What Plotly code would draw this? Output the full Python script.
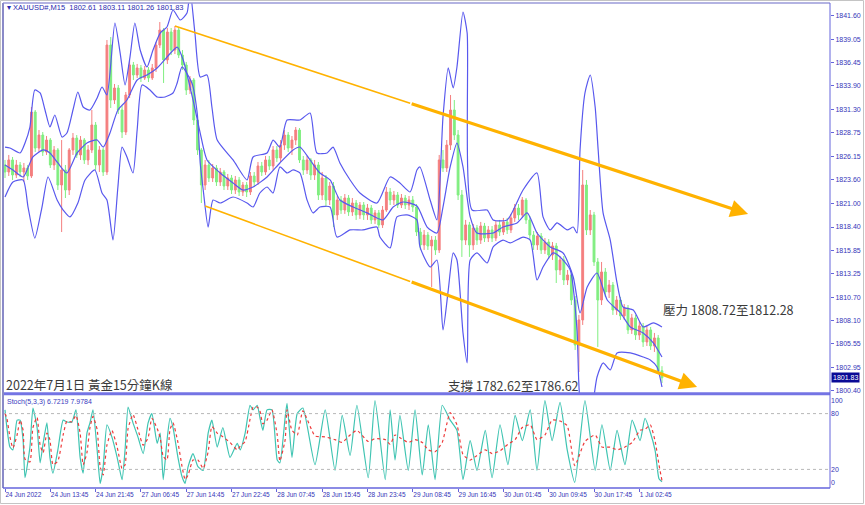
import plotly.graph_objects as go

# ---------------- price data (XAUUSD#, M15), bar index 0..174 ----------------
opens = [1825.22, 1824.45, 1825.77, 1824.12, 1825.22, 1824.45, 1824.89, 1824.01, 1831.04, 1827.08,
         1828.51, 1826.65, 1827.96, 1825.22, 1826.87, 1823.02, 1824.67, 1822.47, 1826.87, 1828.18,
         1826.32, 1827.96, 1825.77, 1826.87, 1829.61, 1825.22, 1826.87, 1824.45, 1838.40, 1832.36,
         1833.68, 1831.26, 1828.84, 1832.91, 1836.21, 1835.11, 1835.88, 1834.78, 1835.66, 1834.78,
         1835.88, 1838.40, 1840.05, 1836.76, 1839.83, 1837.85, 1840.05, 1837.30, 1836.21, 1833.46,
         1834.56, 1830.16, 1826.87, 1823.02, 1825.22, 1823.79, 1824.89, 1823.35, 1824.45, 1822.91,
         1823.79, 1822.47, 1823.57, 1822.25, 1823.02, 1822.25, 1824.01, 1823.35, 1825.11, 1824.45,
         1825.77, 1825.11, 1826.87, 1825.99, 1827.41, 1828.51, 1827.08, 1827.96, 1829.06, 1825.77,
         1824.67, 1825.77, 1824.12, 1825.22, 1821.92, 1823.79, 1821.37, 1822.91, 1819.73, 1821.37,
         1820.27, 1821.59, 1820.06, 1821.04, 1819.73, 1820.82, 1819.73, 1820.49, 1819.18, 1819.95,
         1818.63, 1820.27, 1822.25, 1821.37, 1821.92, 1820.82, 1821.59, 1820.82, 1821.37, 1820.60,
         1817.85, 1816.43, 1817.52, 1816.32, 1816.97, 1815.88, 1825.77, 1824.89, 1827.41, 1831.26,
         1828.51, 1821.92, 1816.97, 1818.63, 1816.43, 1818.30, 1816.97, 1818.51, 1817.19, 1818.08,
         1817.19, 1818.63, 1817.85, 1818.96, 1818.08, 1819.40, 1820.49, 1819.73, 1821.37, 1819.18,
         1817.52, 1816.43, 1817.41, 1815.88, 1816.75, 1815.33, 1816.32, 1813.68, 1814.78, 1812.58,
         1813.13, 1810.38, 1805.44, 1808.19, 1823.02, 1818.08, 1819.73, 1814.56, 1810.38, 1813.46,
         1811.26, 1812.03, 1809.28, 1810.38, 1808.63, 1809.50, 1807.09, 1808.41, 1806.54, 1807.53,
         1805.77, 1807.09, 1805.33, 1806.21, 1802.61]
highs = [1825.77, 1826.32, 1826.10, 1825.77, 1825.55, 1825.44, 1825.22, 1831.59, 1831.26, 1829.06,
         1828.84, 1828.40, 1828.18, 1827.30, 1827.08, 1827.96, 1825.22, 1827.08, 1828.73, 1828.51,
         1828.40, 1828.18, 1827.41, 1831.26, 1829.94, 1827.30, 1827.08, 1838.95, 1839.28, 1834.12,
         1834.01, 1831.70, 1833.24, 1836.76, 1836.54, 1836.32, 1836.21, 1836.10, 1835.99, 1836.32,
         1838.73, 1840.93, 1840.27, 1840.27, 1840.27, 1840.49, 1840.27, 1837.85, 1836.54, 1834.99,
         1834.78, 1830.71, 1827.08, 1825.77, 1825.77, 1825.33, 1825.22, 1824.89, 1824.67, 1824.23,
         1824.12, 1824.01, 1823.90, 1823.35, 1823.35, 1824.45, 1824.45, 1825.55, 1825.55, 1826.21,
         1826.21, 1827.30, 1827.30, 1827.96, 1829.06, 1828.84, 1828.40, 1829.39, 1829.28, 1826.21,
         1826.21, 1825.99, 1825.77, 1825.55, 1824.45, 1824.12, 1823.35, 1823.35, 1821.81, 1821.81,
         1822.03, 1821.92, 1821.59, 1821.37, 1821.15, 1821.15, 1820.93, 1820.82, 1820.27, 1820.27,
         1820.71, 1822.80, 1822.69, 1822.36, 1822.25, 1822.03, 1821.92, 1821.81, 1821.81, 1820.93,
         1818.30, 1818.08, 1817.85, 1817.41, 1817.41, 1826.32, 1826.87, 1827.96, 1832.91, 1832.36,
         1829.06, 1822.47, 1819.18, 1818.96, 1818.74, 1818.63, 1818.96, 1818.85, 1818.51, 1818.51,
         1819.07, 1819.18, 1819.40, 1819.40, 1819.84, 1820.93, 1820.93, 1821.70, 1821.59, 1819.62,
         1817.96, 1817.85, 1817.74, 1817.19, 1817.08, 1816.75, 1816.65, 1815.22, 1815.22, 1813.68,
         1813.46, 1810.82, 1808.74, 1824.67, 1823.57, 1820.27, 1820.06, 1815.00, 1814.56, 1813.90,
         1812.58, 1812.36, 1810.82, 1810.71, 1809.93, 1809.83, 1808.85, 1808.74, 1807.97, 1807.86,
         1807.64, 1807.42, 1806.76, 1806.54, 1803.11]
lows = [1823.79, 1824.01, 1823.57, 1823.79, 1823.90, 1823.35, 1823.57, 1823.79, 1826.65, 1826.65,
        1826.21, 1826.32, 1824.89, 1824.67, 1822.47, 1817.85, 1821.59, 1821.92, 1826.32, 1825.99,
        1825.77, 1825.33, 1825.22, 1826.54, 1824.67, 1824.45, 1824.01, 1824.12, 1831.48, 1831.92,
        1830.82, 1828.18, 1828.51, 1832.58, 1834.56, 1834.78, 1834.34, 1834.56, 1834.34, 1834.56,
        1835.44, 1838.07, 1834.23, 1836.32, 1837.30, 1837.41, 1836.97, 1835.66, 1832.91, 1833.02,
        1829.61, 1826.32, 1821.04, 1822.47, 1823.35, 1823.35, 1822.91, 1822.91, 1822.47, 1822.47,
        1822.03, 1822.03, 1821.81, 1821.81, 1821.70, 1821.92, 1822.91, 1823.02, 1824.01, 1824.12,
        1824.67, 1824.67, 1825.55, 1825.55, 1826.87, 1826.65, 1826.32, 1827.41, 1825.44, 1824.12,
        1824.23, 1823.57, 1823.57, 1821.37, 1821.37, 1820.60, 1820.82, 1818.40, 1819.18, 1819.84,
        1819.84, 1819.62, 1819.62, 1819.18, 1819.29, 1819.18, 1819.18, 1818.74, 1818.74, 1818.30,
        1818.30, 1820.06, 1820.82, 1820.82, 1820.49, 1820.49, 1820.38, 1820.27, 1820.06, 1817.41,
        1815.88, 1815.88, 1815.88, 1811.81, 1815.33, 1815.55, 1824.45, 1824.45, 1826.87, 1827.96,
        1821.37, 1815.11, 1816.43, 1815.11, 1815.88, 1816.43, 1816.54, 1816.75, 1816.75, 1816.75,
        1816.86, 1817.41, 1817.52, 1817.63, 1817.74, 1818.96, 1819.18, 1819.40, 1818.74, 1816.97,
        1815.88, 1815.88, 1815.44, 1815.44, 1814.89, 1814.78, 1812.25, 1813.13, 1812.03, 1812.03,
        1809.83, 1804.89, 1802.47, 1807.64, 1817.52, 1817.52, 1814.12, 1805.22, 1809.83, 1810.71,
        1810.60, 1808.74, 1808.74, 1808.19, 1808.19, 1806.65, 1806.65, 1805.99, 1805.99, 1805.22,
        1805.33, 1804.89, 1804.67, 1802.25, 1801.26]
closes = [1824.45, 1825.77, 1824.12, 1825.22, 1824.45, 1824.89, 1824.01, 1831.04, 1827.08, 1828.51,
          1826.65, 1827.96, 1825.22, 1826.87, 1823.02, 1824.67, 1822.47, 1826.87, 1828.18, 1826.32,
          1827.96, 1825.77, 1826.87, 1829.61, 1825.22, 1826.87, 1824.45, 1838.40, 1832.36, 1833.68,
          1831.26, 1828.84, 1832.91, 1836.21, 1835.11, 1835.88, 1834.78, 1835.66, 1834.78, 1835.88,
          1838.40, 1840.05, 1836.76, 1839.83, 1837.85, 1840.05, 1837.30, 1836.21, 1833.46, 1834.56,
          1830.16, 1826.87, 1823.02, 1825.22, 1823.79, 1824.89, 1823.35, 1824.45, 1822.91, 1823.79,
          1822.47, 1823.57, 1822.25, 1823.02, 1822.25, 1824.01, 1823.35, 1825.11, 1824.45, 1825.77,
          1825.11, 1826.87, 1825.99, 1827.41, 1828.51, 1827.08, 1827.96, 1829.06, 1825.77, 1824.67,
          1825.77, 1824.12, 1825.22, 1821.92, 1823.79, 1821.37, 1822.91, 1819.73, 1821.37, 1820.27,
          1821.59, 1820.06, 1821.04, 1819.73, 1820.82, 1819.73, 1820.49, 1819.18, 1819.95, 1818.63,
          1820.27, 1822.25, 1821.37, 1821.92, 1820.82, 1821.59, 1820.82, 1821.37, 1820.60, 1817.85,
          1816.43, 1817.52, 1816.32, 1816.97, 1815.88, 1825.77, 1824.89, 1827.41, 1831.26, 1828.51,
          1821.92, 1816.97, 1818.63, 1816.43, 1818.30, 1816.97, 1818.51, 1817.19, 1818.08, 1817.19,
          1818.63, 1817.85, 1818.96, 1818.08, 1819.40, 1820.49, 1819.73, 1821.37, 1819.18, 1817.52,
          1816.43, 1817.41, 1815.88, 1816.75, 1815.33, 1816.32, 1813.68, 1814.78, 1812.58, 1813.13,
          1810.38, 1805.44, 1808.19, 1823.02, 1818.08, 1819.73, 1814.56, 1810.38, 1813.46, 1811.26,
          1812.03, 1809.28, 1810.38, 1808.63, 1809.50, 1807.09, 1808.41, 1806.54, 1807.53, 1805.77,
          1807.09, 1805.33, 1806.21, 1802.58, 1801.83]
bar_index = list(range(len(closes)))

# ---------------- Bollinger-style bands (read at bar positions) ----------------
upper_idx = [0, 1.3, 4, 5.3, 6.6, 7.9, 9.3, 10.6, 11.9, 13.2, 15.1, 16.4, 18, 19.3, 20.7, 22.5, 24.4, 25.7,
             27, 29.1, 30.5, 31.8, 33.1, 34.4, 35.8, 37.6, 39.2, 41.1, 42.9, 44.5, 46.4, 48.2, 49, 50.3,
             51.7, 53.5, 54.8, 56.2, 60.4, 64.1, 65.7, 69.4, 71, 72.8, 74.7, 78.1, 80.8, 82.6, 85.3, 86.9,
             88.7, 91.4, 94, 98.5, 102, 104.6, 107.3, 109.1, 109.9, 112.6, 114.4, 116, 117.4, 118.7,
             119.7, 121.3, 122.4, 123.7, 127.7, 129.3, 133, 137.2, 140.9, 142.5, 144.4, 146.2, 148.9,
             150.5, 151.5, 152.3, 153.6, 155, 156.3, 157.1, 158.4, 160.3, 162.1, 163.7, 166.4, 169,
             171.7, 174]
upper_val = [1827.19, 1827.08, 1826.54, 1827.63, 1829.39, 1833.46, 1833.13, 1831.26, 1829.39, 1830.71,
             1828.29, 1828.73, 1831.26, 1833.24, 1831.59, 1831.26, 1832.58, 1833.79, 1832.91, 1840.82,
             1837.52, 1834.01, 1837.08, 1840.82, 1837.85, 1835.99, 1837.85, 1839.72, 1840.38, 1842.25,
             1841.15, 1841.92, 1844.45, 1839.72, 1834.89, 1835.11, 1831.59, 1827.96, 1825.77, 1823.57,
             1826.10, 1826.54, 1827.96, 1827.19, 1830.16, 1830.16, 1830.93, 1826.54, 1826.54, 1827.19,
             1825.44, 1823.57, 1822.14, 1821.04, 1823.90, 1823.24, 1822.25, 1824.67, 1825.00, 1821.37,
             1819.18, 1830.49, 1835.88, 1833.68, 1835.99, 1842.03, 1839.72, 1820.27, 1820.27, 1819.18,
             1819.18, 1822.47, 1824.34, 1819.51, 1818.08, 1818.85, 1818.08, 1818.40, 1817.74, 1826.87,
             1833.13, 1835.11, 1831.59, 1826.87, 1819.95, 1816.97, 1812.25, 1809.61, 1809.28, 1807.42,
             1807.86, 1807.42]
middle_idx = [0, 2.1, 4.8, 7.4, 10.1, 11.9, 14, 16.4, 19.1, 21.7, 24.4, 26, 27.8, 29.9, 32.3, 35, 37.6,
              40.3, 42.9, 45.6, 47.2, 49.8, 51.7, 53.5, 57, 60.4, 63, 65.7, 69.4, 72.8, 76.3, 78.1, 80.8,
              83.4, 86.1, 88.7, 92.2, 95.9, 100.1, 102.8, 105.4, 109.1, 111.8, 114.4, 116, 117.9, 119.7,
              121.3, 123.2, 125, 129.3, 131.9, 135.6, 138.3, 140.9, 144.4, 147.8, 150.5, 152.3, 154.2,
              156.8, 159.5, 163, 165.6, 169, 171.7, 174]
middle_val = [1825.22, 1824.67, 1823.90, 1826.10, 1826.87, 1826.54, 1825.44, 1824.34, 1826.54, 1827.63,
              1827.96, 1827.19, 1828.73, 1831.26, 1832.36, 1834.56, 1835.11, 1835.88, 1837.08, 1838.18,
              1836.76, 1832.36, 1828.73, 1825.77, 1824.34, 1823.24, 1822.47, 1822.80, 1823.90, 1825.44,
              1826.87, 1827.19, 1825.77, 1824.34, 1823.57, 1821.37, 1820.60, 1819.95, 1819.18, 1820.60,
              1821.15, 1820.71, 1818.40, 1817.74, 1820.60, 1825.00, 1827.63, 1825.00, 1819.51, 1817.74,
              1817.74, 1818.40, 1818.85, 1819.95, 1817.74, 1816.21, 1815.55, 1812.91, 1808.96, 1811.81,
              1813.35, 1810.38, 1808.96, 1807.42, 1806.76, 1805.66, 1804.12]
lower_idx = [0, 2.1, 4.8, 6.1, 7.9, 9.8, 11.4, 13.8, 15.4, 17.2, 19.3, 21.2, 23.8, 25.7, 27, 28.6, 29.9,
             31, 32.3, 33.9, 35, 36.3, 38.4, 40.3, 42.4, 44.5, 45.6, 46.9, 49.5, 50.9, 51.7, 52.5, 53.8,
             55.1, 57, 60.4, 64.1, 65.7, 67.5, 69.4, 71, 72.8, 74.7, 76.3, 78.1, 80, 81.6, 83.4, 86.1,
             87.9, 91.4, 94.8, 98.5, 99.3, 102, 103.8, 106.5, 109.1, 109.9, 112.6, 114.4, 116, 117.4,
             118.7, 119.7, 121.3, 122.4, 123.2, 125, 127.7, 129.3, 131.9, 133.8, 137.2, 139.1, 140.9,
             142.5, 145.2, 147, 149.7, 151.5, 152.3, 154.2, 155.8, 156.8, 158.4, 160.3, 162.1, 165.6,
             169, 170.9, 172.7, 174]
lower_val = [1821.70, 1823.35, 1823.57, 1820.60, 1817.19, 1820.60, 1823.90, 1821.37, 1820.27, 1819.51,
             1821.04, 1823.57, 1824.67, 1822.14, 1821.37, 1816.97, 1822.80, 1827.19, 1826.10, 1824.34,
             1829.06, 1834.01, 1833.46, 1832.69, 1832.69, 1833.13, 1834.23, 1835.99, 1834.23, 1830.93,
             1825.44, 1822.47, 1818.40, 1821.37, 1821.04, 1821.70, 1821.04, 1820.60, 1822.14, 1822.80,
             1822.14, 1825.00, 1824.34, 1824.67, 1824.34, 1821.37, 1819.95, 1820.60, 1820.60, 1817.30,
             1818.08, 1818.08, 1818.40, 1817.30, 1816.10, 1819.51, 1819.73, 1819.18, 1816.21, 1814.01,
             1814.78, 1807.09, 1811.48, 1815.55, 1814.78, 1806.76, 1803.46, 1814.78, 1815.55, 1814.45,
             1816.21, 1816.97, 1816.65, 1817.30, 1816.97, 1812.58, 1814.01, 1815.55, 1815.11, 1813.68,
             1807.09, 1799.39, 1797.20, 1799.39, 1801.92, 1803.46, 1802.69, 1804.56, 1804.56, 1804.12,
             1803.79, 1803.02, 1800.82]

# ---------------- Stochastic (5,3,3) ----------------
stoch_idx = [0, 0.5, 1.3, 2.1, 3.2, 4, 4.8, 5.3, 6.6, 7.4, 8.5, 9.3, 10.1, 11.1, 11.9, 12.7, 14, 15.4,
             16.4, 17.7, 18.8, 19.9, 20.7, 21.7, 22.5, 23.3, 24.4, 25.2, 26, 27, 28.3, 29.7, 31, 31.8,
             32.6, 33.9, 35.2, 36.6, 37.9, 38.9, 40.3, 41.1, 41.9, 42.9, 43.7, 44.5, 45.8, 46.9, 47.7,
             48.5, 49.8, 51.1, 52.5, 53.8, 54.8, 56.2, 57.7, 59.6, 61.5, 62.3, 63.6, 64.9, 65.7, 66.8,
             67.5, 68.3, 69.4, 70.7, 72.1, 72.8, 74.2, 74.7, 76, 77.4, 78.9, 82.1, 84.8, 87.4, 89.3,
             91.4, 93.2, 96.2, 98, 100.7, 102, 103.3, 104.6, 106.8, 108.6, 110.5, 112.1, 113.9, 115.8,
             117.9, 119.7, 121.3, 123.2, 125, 127.2, 129, 131.1, 133.2, 135.1, 137, 139.1, 140.9, 143,
             144.9, 147, 148.9, 150.9, 153.6, 156.3, 158.1, 160.3, 162.1, 164.2, 166.1, 168.2, 169.5,
             170.9, 172.2, 173.2, 174]
stoch_k = [84, 65, 44, 41, 73, 73, 51, 11, 44, 86, 65, 27, 48, 70, 33, 16, 41, 73, 71, 71, 84, 33, 16, 59,
           70, 84, 41, 5, 23, 68, 55, 33, 9, 41, 87, 70, 55, 37, 70, 80, 48, 59, 9, 51, 75, 65, 33, 12, 5,
           23, 37, 23, 19, 59, 73, 44, 65, 33, 48, 41, 59, 89, 84, 89, 76, 62, 84, 84, 30, 27, 76, 91, 33,
           80, 86, 25, 84, 19, 78, 35, 89, 11, 94, 9, 84, 30, 78, 19, 84, 14, 68, 9, 89, 73, 62, 9, 51,
           19, 62, 11, 68, 25, 78, 51, 84, 19, 94, 51, 92, 41, 6, 94, 19, 68, 19, 62, 25, 73, 51, 75, 60,
           40, 10, 6.72]
stoch_d = [80, 75, 55, 43, 57, 73, 62, 31, 28, 65, 76, 46, 38, 59, 52, 25, 29, 57, 72, 71, 78, 59, 25,
           38, 65, 77, 63, 23, 14, 46, 62, 44, 21, 25, 64, 79, 63, 46, 54, 75, 64, 54, 34, 30, 63, 70, 49,
           23, 9, 14, 30, 30, 21, 39, 66, 59, 55, 49, 41, 45, 50, 74, 87, 87, 83, 69, 73, 84, 57, 29, 52,
           84, 62, 57, 83, 56, 55, 52, 49, 57, 62, 50, 53, 52, 47, 57, 54, 49, 52, 49, 41, 39, 49, 81, 68,
           36, 30, 35, 41, 37, 40, 47, 52, 65, 68, 52, 57, 73, 72, 67, 24, 50, 57, 44, 44, 41, 44, 49, 62,
           63, 68, 50, 25, 7.98]

# ---------------- axis labels ----------------
price_ticks = [1841.60, 1839.05, 1836.45, 1833.90, 1831.30, 1828.75, 1826.15, 1823.60, 1821.00,
               1818.40, 1815.85, 1813.25, 1810.70, 1808.10, 1805.55, 1802.95, 1800.40]
date_tick_idx = [0, 12, 24, 36, 48, 60, 72, 84, 96, 108, 120, 132, 144, 156, 168]
date_tick_labels = ["24 Jun 2022", "24 Jun 13:45", "24 Jun 21:45", "27 Jun 06:45", "27 Jun 14:45",
                    "27 Jun 22:45", "28 Jun 07:45", "28 Jun 15:45", "28 Jun 23:45", "29 Jun 08:45",
                    "29 Jun 16:45", "30 Jun 01:45", "30 Jun 09:45", "30 Jun 17:45", "1 Jul 02:45"]
stoch_tick_vals = [94, 80, 20, 6]
stoch_tick_text = ["100", "80", "20", "0"]
stoch_levels = [80, 20]
last_price = 1801.83

# channel drawings: (bar index, price) of start and end, thick arrow part starts at split index
channel_upper = [(45.0, 1840.49), (196.8, 1819.83)]
channel_lower = [(53.0, 1820.71), (183.3, 1800.82)]
arrow_split_idx = 107.3

# ---------------- styling ----------------
UP = "#f47f7f"
DOWN = "#80ee80"
BAND = "#5858ee"
ORANGE = "#FFB200"
AXIS = "#6464dc"
LBL = "#3535b8"

fig = go.Figure()
fig.add_trace(go.Candlestick(
    x=bar_index, open=opens, high=highs, low=lows, close=closes,
    increasing=dict(line=dict(color=UP, width=1), fillcolor=UP),
    decreasing=dict(line=dict(color=DOWN, width=1), fillcolor=DOWN),
    whiskerwidth=0, hoverinfo="skip", xaxis="x", yaxis="y"))
for xs, ys in [(upper_idx, upper_val), (middle_idx, middle_val), (lower_idx, lower_val)]:
    fig.add_trace(go.Scatter(x=xs, y=ys, mode="lines",
                             line=dict(color=BAND, width=1.2, shape="spline", smoothing=0.6),
                             hoverinfo="skip", xaxis="x", yaxis="y"))
fig.add_trace(go.Scatter(x=stoch_idx, y=stoch_k, mode="lines",
                         line=dict(color="#3fc4b2", width=1.2, shape="spline", smoothing=0.5),
                         xaxis="x2", yaxis="y2", hoverinfo="skip"))
fig.add_trace(go.Scatter(x=stoch_idx, y=stoch_d, mode="lines",
                         line=dict(color="#ee3b3b", width=1.2, dash="dot", shape="spline", smoothing=0.5),
                         xaxis="x2", yaxis="y2", hoverinfo="skip"))

# pixel geometry of the plotting area (865x505 window)
L, R, T, B = 3, 35, 3, 17
W, H = 865, 505
pw, ph = W - L - R, H - T - B
def py(pix):  # paper y from pixel y
    return (H - B - pix) / ph
def px(pix):  # paper x from pixel x
    return (pix - L) / pw

main_dom = [py(393), 1.0]
stoch_dom = [0.0, py(395)]
xrange_ = [-0.53, 218.5]

shapes = []
annotations = []

def lerp(p0, p1, xi):
    return p0[1] + (p1[1] - p0[1]) * (xi - p0[0]) / (p1[0] - p0[0])

for line in (channel_upper, channel_lower):
    (x0, y0), (x1, y1) = line
    ys = lerp(line[0], line[1], arrow_split_idx)
    shapes.append(dict(type="line", xref="x", yref="y", x0=x0, y0=y0, x1=arrow_split_idx, y1=ys,
                       line=dict(color=ORANGE, width=1.6)))
    annotations.append(dict(x=x1, y=y1, xref="x", yref="y", ax=arrow_split_idx, ay=ys, axref="x", ayref="y",
                            text="", showarrow=True, arrowhead=2, arrowsize=1.1, arrowwidth=3.2,
                            arrowcolor=ORANGE, standoff=0))

for lv in stoch_levels:
    shapes.append(dict(type="line", xref="paper", yref="y2", x0=0, x1=1, y0=lv, y1=lv,
                       line=dict(color="#b8b8b8", width=1, dash="dot")))

# frame lines
shapes += [
    dict(type="line", xref="paper", yref="paper", x0=0, x1=1, y0=py(393.8), y1=py(393.8),
         line=dict(color="#7474e4", width=3)),
    dict(type="line", xref="paper", yref="paper", x0=0, x1=1, y0=1, y1=1, line=dict(color="#9a9ad8", width=1.5)),
    dict(type="line", xref="paper", yref="paper", x0=0, x1=0, y0=0, y1=1, line=dict(color="#8a8ac8", width=2)),
    dict(type="line", xref="paper", yref="paper", x0=1, x1=1, y0=0, y1=1, line=dict(color=AXIS, width=1)),
    dict(type="line", xref="paper", yref="paper", x0=0, x1=1, y0=0, y1=0, line=dict(color=AXIS, width=1.5)),
    dict(type="rect", xref="paper", yref="paper", x0=px(0.5), x1=px(863.5), y0=py(503.5), y1=py(0.5),
         line=dict(color="#c4c4c4", width=1)),
]

cjk = "Noto Sans CJK TC"
annotations += [
    dict(x=px(5), y=py(8), xref="paper", yref="paper", xanchor="left", yanchor="middle", showarrow=False,
         text="▾ XAUUSD#,M15  1802.61 1803.11 1801.26 1801.83",
         font=dict(family="Liberation Sans", size=7.5, color="#2a2ab0")),
    dict(x=px(5), y=py(402), xref="paper", yref="paper", xanchor="left", yanchor="middle", showarrow=False,
         text="Stoch(5,3,3) 6.7219 7.9784", font=dict(family="Liberation Sans", size=7, color="#3a3ac0")),
    dict(x=px(4), y=py(384), xref="paper", yref="paper", xanchor="left", yanchor="middle", showarrow=False,
         text="2022年7月1日 黃金15分鐘K線", font=dict(family=cjk, size=12.5, color="#3a3a3a")),
    dict(x=px(446), y=py(385), xref="paper", yref="paper", xanchor="left", yanchor="middle", showarrow=False,
         text="支撐 1782.62至1786.62", font=dict(family=cjk, size=12.5, color="#3a3a3a")),
    dict(x=px(661), y=py(309), xref="paper", yref="paper", xanchor="left", yanchor="middle", showarrow=False,
         text="壓力 1808.72至1812.28", font=dict(family=cjk, size=12.5, color="#3a3a3a")),
    dict(x=1, y=last_price, xref="paper", yref="y", xanchor="left", yanchor="middle", xshift=1,
         showarrow=False, text=f"{last_price:.2f}", bgcolor="#0a0a96",
         font=dict(family="Liberation Sans", size=7, color="white"), borderpad=1),
]

tickfont = dict(family="Liberation Sans", size=7, color=LBL)
fig.update_layout(
    width=W, height=H, autosize=False, showlegend=False,
    margin=dict(l=L, r=R, t=T, b=B),
    paper_bgcolor="white", plot_bgcolor="white",
    xaxis=dict(domain=[0, 1], range=xrange_, anchor="y", showticklabels=False, showgrid=False,
               zeroline=False, showline=False, ticks="", rangeslider=dict(visible=False)),
    yaxis=dict(domain=main_dom, range=[1800.16, 1843.02], side="right", anchor="x",
               tickvals=price_ticks, ticktext=[f"{v:.2f}" for v in price_ticks],
               ticks="outside", ticklen=3, tickcolor=AXIS, tickfont=tickfont,
               showgrid=False, zeroline=False, showline=False),
    xaxis2=dict(domain=[0, 1], range=xrange_, anchor="y2", tickvals=date_tick_idx, ticktext=date_tick_labels,
                ticks="outside", ticklen=3, tickcolor=AXIS, ticklabelposition="outside right", tickangle=0,
                tickfont=dict(family="Liberation Sans", size=6.5, color=LBL),
                showgrid=False, zeroline=False, showline=False),
    yaxis2=dict(domain=stoch_dom, range=[0, 100], side="right", anchor="x2",
                tickvals=stoch_tick_vals, ticktext=stoch_tick_text, ticks="", tickfont=tickfont,
                showgrid=False, zeroline=False, showline=False),
    shapes=shapes, annotations=annotations,
)

fig.write_html("out.html", config={"displayModeBar": False},
               post_script="document.body.style.margin='0';document.body.style.overflow='hidden';")
